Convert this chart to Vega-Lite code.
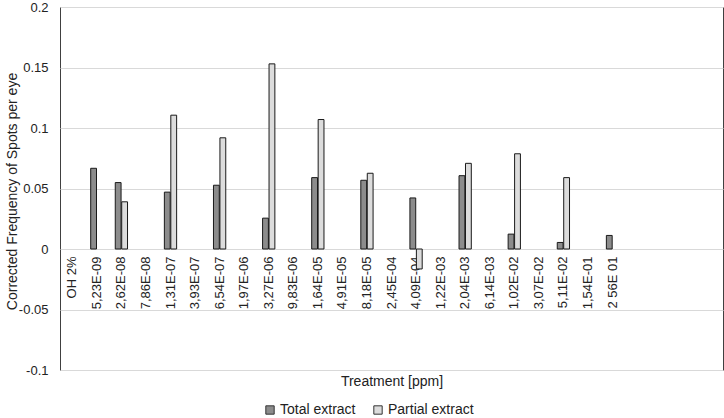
{
  "$schema": "https://vega.github.io/schema/vega-lite/v6.json",
  "width": 663,
  "height": 363,
  "autosize": "none",
  "padding": {"left": 60, "top": 7, "right": 1, "bottom": 48},
  "background": "white",
  "config": {
    "font": "Liberation Sans",
    "view": {"stroke": "#404040", "strokeWidth": 1},
    "axis": {
      "labelFont": "Liberation Sans",
      "titleFont": "Liberation Sans",
      "labelColor": "#222222",
      "titleColor": "#222222",
      "titleFontWeight": "normal",
      "ticks": false,
      "domain": false
    },
    "legend": {
      "labelFont": "Liberation Sans",
      "labelFontSize": 14,
      "labelColor": "#222222"
    }
  },
  "data": {
    "values": [
      {"treatment": "5,23E-09", "extract": "Total extract", "value": 0.0667},
      {"treatment": "2,62E-08", "extract": "Total extract", "value": 0.0549},
      {"treatment": "2,62E-08", "extract": "Partial extract", "value": 0.039},
      {"treatment": "1,31E-07", "extract": "Total extract", "value": 0.047},
      {"treatment": "1,31E-07", "extract": "Partial extract", "value": 0.1106},
      {"treatment": "6,54E-07", "extract": "Total extract", "value": 0.0527},
      {"treatment": "6,54E-07", "extract": "Partial extract", "value": 0.0919},
      {"treatment": "3,27E-06", "extract": "Total extract", "value": 0.0255},
      {"treatment": "3,27E-06", "extract": "Partial extract", "value": 0.153},
      {"treatment": "1,64E-05", "extract": "Total extract", "value": 0.059},
      {"treatment": "1,64E-05", "extract": "Partial extract", "value": 0.107},
      {"treatment": "8,18E-05", "extract": "Total extract", "value": 0.0568},
      {"treatment": "8,18E-05", "extract": "Partial extract", "value": 0.0626},
      {"treatment": "4,09E-04", "extract": "Total extract", "value": 0.0422},
      {"treatment": "4,09E-04", "extract": "Partial extract", "value": -0.0165},
      {"treatment": "2,04E-03", "extract": "Total extract", "value": 0.0606},
      {"treatment": "2,04E-03", "extract": "Partial extract", "value": 0.0708},
      {"treatment": "1,02E-02", "extract": "Total extract", "value": 0.0123},
      {"treatment": "1,02E-02", "extract": "Partial extract", "value": 0.0787},
      {"treatment": "5,11E-02", "extract": "Total extract", "value": 0.0054},
      {"treatment": "5,11E-02", "extract": "Partial extract", "value": 0.059},
      {"treatment": "2 56E 01", "extract": "Total extract", "value": 0.0112}
    ]
  },
  "mark": {"type": "bar", "stroke": "#1a1a1a", "strokeWidth": 1},
  "encoding": {
    "x": {
      "field": "treatment",
      "type": "nominal",
      "scale": {
        "domain": ["OH 2%", "5,23E-09", "2,62E-08", "7,86E-08", "1,31E-07", "3,93E-07", "6,54E-07", "1,97E-06", "3,27E-06", "9,83E-06", "1,64E-05", "4,91E-05", "8,18E-05", "2,45E-04", "4,09E-04", "1,22E-03", "2,04E-03", "6,14E-03", "1,02E-02", "3,07E-02", "5,11E-02", "1,54E-01", "2 56E 01", " ", "  ", "   ", "    "],
        "paddingInner": 0.5,
        "paddingOuter": 0.25
      },
      "axis": {
        "title": "Treatment [ppm]",
        "titleFontSize": 14,
        "titleY": 125,
        "titleBaseline": "top",
        "labelAngle": -90,
        "labelFontSize": 13,
        "labelPadding": 7,
        "offset": -121,
        "grid": false
      }
    },
    "xOffset": {
      "field": "extract",
      "type": "nominal",
      "scale": {"domain": ["Total extract", "Partial extract"], "paddingInner": 0.1}
    },
    "y": {
      "field": "value",
      "type": "quantitative",
      "scale": {"domain": [-0.1, 0.2], "nice": false},
      "axis": {
        "title": "Corrected Frequency of Spots per eye",
        "titleFontSize": 14,
        "titleX": -48,
        "titleY": 184,
        "titleAngle": -90,
        "titleAlign": "center",
        "titleBaseline": "middle",
        "values": [-0.1, -0.05, 0, 0.05, 0.1, 0.15, 0.2],
        "labelExpr": "replace(format(datum.value, '~g'), '−', '-')",
        "labelFontSize": 13,
        "labelPadding": 12,
        "grid": true,
        "gridColor": "#d9d9d9"
      }
    },
    "color": {
      "field": "extract",
      "type": "nominal",
      "scale": {"domain": ["Total extract", "Partial extract"], "range": ["#8c8c8c", "#dcdcdc"]},
      "legend": {
        "title": null,
        "orient": "none",
        "direction": "horizontal",
        "legendX": 203,
        "legendY": 396,
        "symbolType": "square",
        "symbolSize": 70,
        "symbolStrokeColor": "#333333",
        "symbolStrokeWidth": 1,
        "labelOffset": 3,
        "columnPadding": 15
      }
    }
  }
}
